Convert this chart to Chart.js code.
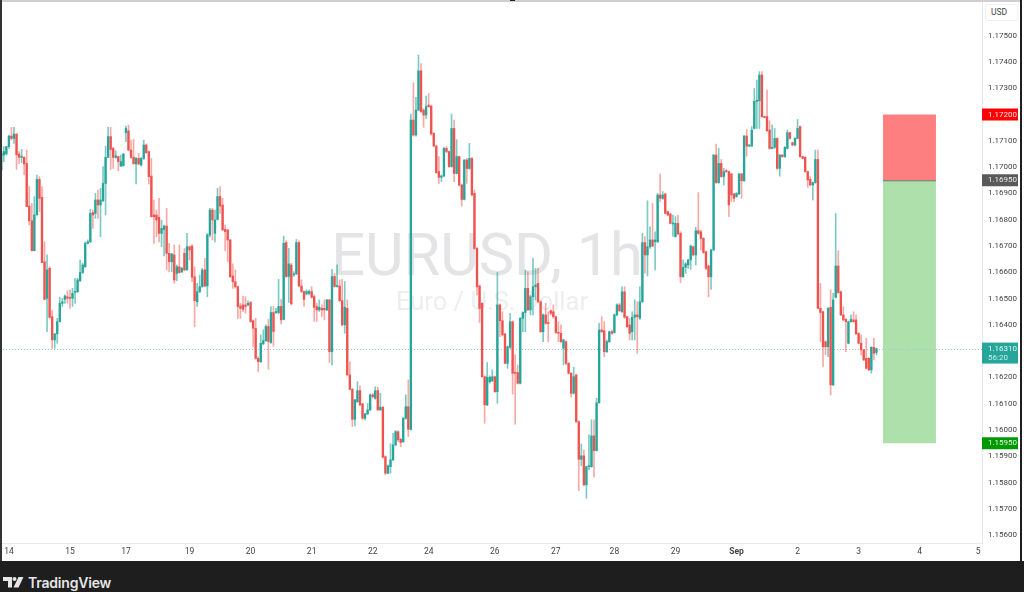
<!DOCTYPE html>
<html>
<head>
<meta charset="utf-8">
<title>EURUSD, 1h</title>
<script src="https://cdn.jsdelivr.net/npm/chart.js@4"></script>
<style>
    html, body { margin: 0; padding: 0; background: #fff; overflow: hidden; }
    #page { position: relative; width: 1024px; height: 592px; overflow: hidden; background: #fff; }
    #myChart { position: absolute; left: 0; top: 0; }
    #topLine { position: absolute; left: 0; top: 0; width: 1020px; height: 2px; background: #cfcfcf; }
    #topMark { position: absolute; left: 510px; top: 0; width: 5px; height: 1px; background: #222; }
    #leftLine { position: absolute; left: 0; top: 0; width: 2px; height: 561px; background: #333; }
    #rightLine { position: absolute; left: 1020px; top: 0; width: 2px; height: 561px; background: #1e1e1e; }
    #footer { position: absolute; left: 0; top: 561px; width: 1024px; height: 31px; background: #1e1e1e; }
    #footer svg { position: absolute; left: 3px; top: 16px; }
    #brand { position: absolute; left: 28px; top: 13px; color: #e6e6e6; font: 600 14px Inter, sans-serif; letter-spacing: -0.2px; }
    #usd { position: absolute; left: 985px; top: 4px; width: 33px; height: 17px; box-sizing: border-box; border: 1px solid #f0f0f0; border-radius: 2px; color: #444; font: 8.5px Roboto, sans-serif; line-height: 15px; padding-left: 5px; background: #fff; }
</style>
</head>
<body>
<div id="page">
    <canvas id="myChart" width="1020" height="561"></canvas>
    <div id="topLine"></div>
    <div id="topMark"></div>
    <div id="leftLine"></div>
    <div id="rightLine"></div>
    <div id="usd">USD</div>
    <div id="footer">
        <svg width="21" height="11" viewBox="0 0 21 11" fill="#e6e6e6">
            <path d="M0 0h9v10.5H5V4H0z"/>
            <circle cx="11.5" cy="2" r="2"/>
            <path d="M15.5 0H20.5L15.5 10.5H10.5z"/>
        </svg>
        <div id="brand">TradingView</div>
    </div>
</div>
<script>
// Velas de 1h
const opens = [
1.16989,1.17046,1.17050,1.17078,1.17118,1.17109,1.17126,1.17050,1.17037,1.17037,
1.17014,1.16852,1.16796,1.16682,1.16818,1.16953,1.16885,1.16640,1.16501,1.16615,
1.16431,1.16343,1.16366,1.16412,1.16482,1.16497,1.16507,1.16505,1.16501,1.16524,
1.16526,1.16568,1.16599,1.16621,1.16710,1.16716,1.16827,1.16824,1.16875,1.16856,
1.16872,1.16938,1.17037,1.17116,1.17071,1.17037,1.17040,1.17004,1.17005,1.17131,
1.17138,1.17065,1.17037,1.17012,1.17033,1.17008,1.17033,1.17084,1.17059,1.16966,
1.16818,1.16818,1.16809,1.16748,1.16763,1.16776,1.16672,1.16640,1.16666,1.16596,
1.16621,1.16602,1.16672,1.16609,1.16697,1.16700,1.16583,1.16488,1.16526,1.16545,
1.16609,1.16548,1.16742,1.16837,1.16748,1.16801,1.16888,1.16856,1.16763,1.16761,
1.16723,1.16586,1.16564,1.16545,1.16472,1.16476,1.16476,1.16476,1.16485,1.16416,
1.16387,1.16273,1.16260,1.16328,1.16340,1.16394,1.16333,1.16447,1.16447,1.16447,
1.16470,1.16421,1.16713,1.16584,1.16628,1.16590,1.16594,1.16713,1.16548,1.16527,
1.16518,1.16520,1.16527,1.16508,1.16470,1.16457,1.16463,1.16463,1.16457,1.16495,
1.16298,1.16584,1.16546,1.16548,1.16492,1.16400,1.16463,1.16210,1.16155,1.16041,
1.16108,1.16150,1.16100,1.16045,1.16062,1.16077,1.16134,1.16121,1.16150,1.16077,
1.16087,1.15899,1.15836,1.15861,1.15887,1.15944,1.15994,1.15965,1.15956,1.16045,
1.16089,1.16003,1.17179,1.17122,1.17217,1.17366,1.17217,1.17198,1.17236,1.17232,
1.17128,1.17080,1.16983,1.16961,1.16966,1.17071,1.17059,1.17002,1.17147,1.16976,
1.17040,1.16932,1.16877,1.17027,1.16995,1.17033,1.16900,1.16691,1.16548,1.16482,
1.16203,1.16096,1.16184,1.16188,1.16203,1.16146,1.16476,1.16416,1.16366,1.16254,
1.16315,1.16412,1.16219,1.16219,1.16178,1.16425,1.16447,1.16539,1.16457,1.16507,
1.16545,1.16558,1.16488,1.16374,1.16438,1.16406,1.16454,1.16450,1.16431,1.16371,
1.16368,1.16311,1.16336,1.16254,1.16216,1.16140,1.16210,1.16032,1.15889,1.15902,
1.15792,1.15861,1.15861,1.15978,1.15922,1.16104,1.16381,1.16378,1.16298,1.16336,
1.16374,1.16371,1.16438,1.16476,1.16450,1.16526,1.16431,1.16400,1.16374,1.16429,
1.16438,1.16425,1.16488,1.16713,1.16666,1.16697,1.16723,1.16716,1.16716,1.16894,
1.16881,1.16898,1.16831,1.16822,1.16784,1.16736,1.16786,1.16748,1.16583,1.16619,
1.16628,1.16647,1.16697,1.16666,1.16758,1.16754,1.16729,1.16678,1.16624,1.16583,
1.16685,1.17046,1.16941,1.17014,1.16964,1.16986,1.16983,1.16974,1.16898,1.16888,
1.16898,1.16974,1.16948,1.17118,1.17080,1.17080,1.17147,1.17250,1.17252,1.17350,
1.17192,1.17192,1.17141,1.17071,1.17075,1.17109,1.16995,1.17046,1.17040,1.17071,
1.17131,1.17093,1.17084,1.17109,1.17154,1.17040,1.17037,1.16983,1.16953,1.16932,
1.16941,1.17029,1.16463,1.16450,1.16336,1.16317,1.16467,1.16172,1.16505,1.16624,
1.16526,1.16438,1.16421,1.16330,1.16412,1.16419,1.16419,1.16368,1.16330,1.16305,
1.16273,1.16273,1.16229,1.16315,1.16295];
const closes = [
1.17052,1.17059,1.17078,1.17118,1.17109,1.17126,1.17046,1.17037,1.17040,1.17012,
1.16850,1.16796,1.16682,1.16818,1.16953,1.16881,1.16637,1.16497,1.16609,1.16429,
1.16343,1.16366,1.16412,1.16482,1.16488,1.16510,1.16501,1.16501,1.16520,1.16526,
1.16571,1.16599,1.16628,1.16710,1.16716,1.16824,1.16818,1.16875,1.16856,1.16875,
1.16938,1.17037,1.17116,1.17067,1.17037,1.17043,1.17021,1.17021,1.17050,1.17147,
1.17065,1.17037,1.17012,1.17033,1.17012,1.17033,1.17084,1.17055,1.16964,1.16811,
1.16811,1.16799,1.16748,1.16767,1.16776,1.16672,1.16640,1.16670,1.16571,1.16621,
1.16599,1.16615,1.16609,1.16697,1.16685,1.16581,1.16492,1.16526,1.16545,1.16609,
1.16548,1.16742,1.16837,1.16799,1.16799,1.16888,1.16852,1.16761,1.16755,1.16723,
1.16583,1.16564,1.16545,1.16470,1.16463,1.16459,1.16470,1.16482,1.16413,1.16387,
1.16273,1.16260,1.16330,1.16340,1.16394,1.16337,1.16447,1.16375,1.16451,1.16470,
1.16419,1.16710,1.16584,1.16632,1.16480,1.16594,1.16713,1.16548,1.16527,1.16497,
1.16527,1.16527,1.16505,1.16467,1.16457,1.16467,1.16457,1.16457,1.16495,1.16298,
1.16584,1.16546,1.16548,1.16492,1.16400,1.16467,1.16210,1.16155,1.16041,1.16115,
1.16150,1.16096,1.16045,1.16062,1.16077,1.16134,1.16127,1.16150,1.16077,1.16087,
1.15897,1.15836,1.15864,1.15887,1.15944,1.15994,1.15963,1.15953,1.16045,1.16089,
1.16003,1.17179,1.17122,1.17217,1.17366,1.17211,1.17198,1.17230,1.17230,1.17126,
1.17080,1.16979,1.16961,1.16966,1.17071,1.17059,1.17002,1.17147,1.16976,1.17040,
1.16932,1.16877,1.17027,1.16995,1.17033,1.16894,1.16691,1.16545,1.16463,1.16203,
1.16096,1.16201,1.16201,1.16203,1.16146,1.16476,1.16416,1.16362,1.16254,1.16317,
1.16412,1.16216,1.16216,1.16178,1.16425,1.16447,1.16539,1.16457,1.16507,1.16545,
1.16552,1.16488,1.16374,1.16438,1.16406,1.16405,1.16444,1.16431,1.16371,1.16368,
1.16336,1.16343,1.16254,1.16216,1.16140,1.16203,1.16032,1.15889,1.15902,1.15792,
1.15861,1.15864,1.15978,1.15922,1.16104,1.16381,1.16374,1.16298,1.16336,1.16374,
1.16368,1.16438,1.16476,1.16454,1.16526,1.16429,1.16393,1.16368,1.16429,1.16438,
1.16431,1.16488,1.16713,1.16666,1.16697,1.16723,1.16700,1.16723,1.16894,1.16881,
1.16894,1.16824,1.16818,1.16786,1.16786,1.16786,1.16746,1.16583,1.16619,1.16632,
1.16647,1.16700,1.16666,1.16758,1.16748,1.16729,1.16675,1.16615,1.16583,1.16685,
1.17046,1.16941,1.17014,1.16964,1.16983,1.16983,1.16856,1.16894,1.16881,1.16900,
1.16974,1.16948,1.17118,1.17080,1.17084,1.17141,1.17250,1.17252,1.17350,1.17192,
1.17189,1.17138,1.17071,1.17075,1.17109,1.16995,1.17046,1.17040,1.17075,1.17131,
1.17109,1.17084,1.17109,1.17147,1.17040,1.17033,1.16983,1.16951,1.16932,1.16941,
1.17029,1.16463,1.16447,1.16317,1.16317,1.16463,1.16172,1.16495,1.16624,1.16523,
1.16438,1.16419,1.16412,1.16412,1.16421,1.16412,1.16366,1.16330,1.16305,1.16267,
1.16235,1.16229,1.16315,1.16292,1.16310];
const highs = [
1.17078,1.17078,1.17080,1.17122,1.17151,1.17151,1.17126,1.17059,1.17067,1.17040,
1.17065,1.16926,1.16862,1.16888,1.16970,1.16964,1.16926,1.16716,1.16666,1.16621,
1.16454,1.16368,1.16425,1.16505,1.16501,1.16514,1.16530,1.16533,1.16539,1.16577,
1.16577,1.16647,1.16634,1.16716,1.16723,1.16839,1.16837,1.16900,1.16913,1.16919,
1.17002,1.17080,1.17151,1.17151,1.17075,1.17062,1.17042,1.17046,1.17052,1.17156,
1.17160,1.17103,1.17105,1.17037,1.17052,1.17037,1.17103,1.17088,1.17061,1.17033,
1.16875,1.16837,1.16881,1.16799,1.16780,1.16843,1.16710,1.16672,1.16704,1.16628,
1.16704,1.16619,1.16691,1.16748,1.16700,1.16704,1.16621,1.16558,1.16590,1.16615,
1.16653,1.16748,1.16843,1.16843,1.16837,1.16919,1.16926,1.16881,1.16780,1.16763,
1.16725,1.16632,1.16609,1.16548,1.16482,1.16510,1.16507,1.16492,1.16489,1.16419,
1.16425,1.16279,1.16362,1.16381,1.16400,1.16421,1.16470,1.16470,1.16463,1.16573,
1.16497,1.16738,1.16720,1.16691,1.16634,1.16603,1.16725,1.16720,1.16571,1.16530,
1.16533,1.16533,1.16546,1.16514,1.16482,1.16495,1.16476,1.16495,1.16497,1.16497,
1.16611,1.16596,1.16628,1.16571,1.16573,1.16565,1.16495,1.16260,1.16159,1.16117,
1.16184,1.16168,1.16102,1.16064,1.16102,1.16138,1.16140,1.16165,1.16163,1.16140,
1.16089,1.15902,1.15868,1.15948,1.15988,1.15998,1.15997,1.15969,1.16049,1.16134,
1.16191,1.17202,1.17321,1.17265,1.17426,1.17394,1.17223,1.17270,1.17280,1.17236,
1.17131,1.17084,1.17040,1.16970,1.17075,1.17078,1.17061,1.17202,1.17179,1.17105,
1.17042,1.16936,1.17029,1.17033,1.17090,1.17037,1.16913,1.16695,1.16552,1.16485,
1.16206,1.16257,1.16206,1.16229,1.16206,1.16599,1.16480,1.16450,1.16368,1.16320,
1.16444,1.16415,1.16286,1.16248,1.16429,1.16450,1.16609,1.16602,1.16514,1.16653,
1.16615,1.16615,1.16491,1.16442,1.16482,1.16450,1.16457,1.16476,1.16434,1.16412,
1.16400,1.16345,1.16339,1.16257,1.16219,1.16239,1.16212,1.16035,1.15947,1.15925,
1.15864,1.15982,1.16039,1.16039,1.16121,1.16406,1.16431,1.16412,1.16343,1.16377,
1.16381,1.16442,1.16480,1.16482,1.16545,1.16545,1.16434,1.16425,1.16450,1.16495,
1.16488,1.16545,1.16748,1.16736,1.16872,1.16773,1.16862,1.16754,1.16900,1.16974,
1.16907,1.16900,1.16833,1.16824,1.16818,1.16812,1.16818,1.16754,1.16647,1.16637,
1.16649,1.16704,1.16700,1.16771,1.16903,1.16761,1.16732,1.16681,1.16628,1.16687,
1.17048,1.17088,1.17071,1.17029,1.16995,1.16991,1.16985,1.16976,1.16900,1.16903,
1.16976,1.16976,1.17121,1.17143,1.17086,1.17154,1.17299,1.17331,1.17363,1.17363,
1.17194,1.17293,1.17176,1.17160,1.17147,1.17112,1.17048,1.17048,1.17078,1.17141,
1.17133,1.17095,1.17112,1.17181,1.17156,1.17042,1.17040,1.16985,1.16964,1.16943,
1.17065,1.17065,1.16558,1.16453,1.16339,1.16466,1.16533,1.16520,1.16824,1.16682,
1.16529,1.16469,1.16424,1.16415,1.16438,1.16450,1.16438,1.16371,1.16362,1.16307,
1.16349,1.16276,1.16317,1.16349,1.16312];
const lows = [
1.16989,1.17021,1.17046,1.17071,1.17103,1.17090,1.16991,1.17014,1.17017,1.16970,
1.16850,1.16780,1.16682,1.16682,1.16818,1.16831,1.16637,1.16495,1.16374,1.16425,
1.16311,1.16311,1.16330,1.16412,1.16470,1.16482,1.16482,1.16463,1.16470,1.16482,
1.16523,1.16564,1.16596,1.16619,1.16708,1.16713,1.16767,1.16805,1.16805,1.16735,
1.16869,1.16818,1.17037,1.16991,1.16995,1.17033,1.16986,1.17002,1.17004,1.17097,
1.17062,1.17033,1.17012,1.16936,1.17008,1.17004,1.17029,1.17052,1.16936,1.16811,
1.16710,1.16735,1.16716,1.16697,1.16662,1.16609,1.16602,1.16602,1.16558,1.16568,
1.16596,1.16599,1.16606,1.16609,1.16647,1.16564,1.16393,1.16470,1.16523,1.16543,
1.16545,1.16507,1.16735,1.16723,1.16716,1.16799,1.16824,1.16758,1.16682,1.16640,
1.16581,1.16539,1.16539,1.16425,1.16425,1.16450,1.16444,1.16472,1.16409,1.16318,
1.16269,1.16222,1.16257,1.16324,1.16337,1.16231,1.16330,1.16318,1.16444,1.16442,
1.16404,1.16419,1.16581,1.16485,1.16476,1.16584,1.16591,1.16546,1.16523,1.16470,
1.16514,1.16514,1.16501,1.16413,1.16413,1.16451,1.16432,1.16419,1.16454,1.16257,
1.16248,1.16543,1.16543,1.16489,1.16396,1.16368,1.16206,1.16153,1.16013,1.16016,
1.16105,1.16092,1.16041,1.16039,1.16058,1.16074,1.16121,1.16117,1.16074,1.16074,
1.15893,1.15830,1.15834,1.15836,1.15884,1.15940,1.15956,1.15937,1.15953,1.16041,
1.15975,1.16000,1.17118,1.17118,1.17214,1.17207,1.17151,1.17185,1.17227,1.17122,
1.17078,1.16976,1.16938,1.16945,1.16964,1.17055,1.16999,1.16999,1.16945,1.16974,
1.16928,1.16852,1.16875,1.16938,1.16991,1.16890,1.16687,1.16514,1.16409,1.16201,
1.16026,1.16093,1.16178,1.16184,1.16143,1.16102,1.16355,1.16358,1.16252,1.16235,
1.16311,1.16137,1.16023,1.16175,1.16175,1.16374,1.16374,1.16454,1.16438,1.16438,
1.16495,1.16485,1.16371,1.16336,1.16402,1.16336,1.16438,1.16425,1.16368,1.16336,
1.16333,1.16248,1.16248,1.16213,1.16125,1.16137,1.16028,1.15770,1.15864,1.15788,
1.15741,1.15849,1.15859,1.15821,1.15920,1.16102,1.16371,1.16279,1.16295,1.16333,
1.16364,1.16368,1.16434,1.16450,1.16447,1.16425,1.16390,1.16343,1.16343,1.16343,
1.16292,1.16421,1.16485,1.16596,1.16586,1.16691,1.16697,1.16609,1.16713,1.16869,
1.16877,1.16822,1.16814,1.16784,1.16736,1.16733,1.16742,1.16561,1.16581,1.16596,
1.16615,1.16611,1.16662,1.16628,1.16744,1.16685,1.16672,1.16609,1.16507,1.16535,
1.16682,1.16938,1.16938,1.16961,1.16932,1.16979,1.16812,1.16869,1.16869,1.16885,
1.16895,1.16881,1.16946,1.17042,1.17078,1.17078,1.17145,1.17147,1.17147,1.17189,
1.17187,1.17136,1.17067,1.17069,1.17071,1.16991,1.16966,1.17037,1.17037,1.17069,
1.17107,1.17081,1.17081,1.17107,1.17037,1.17031,1.16980,1.16923,1.16929,1.16875,
1.16938,1.16461,1.16336,1.16241,1.16286,1.16279,1.16134,1.16169,1.16502,1.16520,
1.16435,1.16416,1.16298,1.16328,1.16410,1.16410,1.16363,1.16328,1.16286,1.16264,
1.16232,1.16226,1.16216,1.16267,1.16286];

const totalBars = 386;              // la escala sigue despues de la ultima vela
const dayLabels = ['14', '15', '17', '19', '20', '21', '22', '24', '26', '27', '28', '29', 'Sep', '2', '3', '4', '5'];
const dayBars = [3, 27, 49, 74, 98, 122, 146, 168, 194, 218, 241, 265, 289, 313, 337, 361, 384];
const priceTicks = [1.156, 1.157, 1.158, 1.159, 1.16, 1.161, 1.162, 1.163, 1.164, 1.165, 1.166, 1.167, 1.168, 1.169, 1.17, 1.171, 1.172, 1.173, 1.174, 1.175];

const stopPrice = 1.172;
const entryPrice = 1.1695;
const targetPrice = 1.1595;
const lastPrice = 1.1631;
const countdown = '56:20';
const positionBars = [346.6, 367.4];

const upColor = '#26a69a';
const downColor = '#ef5350';

function isUp(i) {
    return closes[i] >= opens[i];
}

const labels = [];
for (let i = 0; i < totalBars; i++) {
    const d = dayBars.indexOf(i);
    labels.push(d >= 0 ? dayLabels[d] : '');
}

function tag(ctx, y, h, bg, color, text, sub) {
    ctx.fillStyle = bg;
    ctx.fillRect(982, y, 36, h);
    ctx.fillStyle = color;
    ctx.font = '8px Roboto, sans-serif';
    ctx.textAlign = 'left';
    ctx.textBaseline = 'middle';
    ctx.fillText(text, 988, y + (sub ? 6 : h / 2));
    if (sub) {
        ctx.fillStyle = '#c9ece8';
        ctx.fillText(sub, 988, y + 15);
    }
}

// Marca de agua, caja de la posicion y linea del ultimo precio
const backPlugin = {
    id: 'backPlugin',
    beforeDatasetsDraw(chart) {
        const { ctx, chartArea, scales } = chart;
        const y = scales.y;
        const x = scales.x;
        ctx.save();
        ctx.textAlign = 'center';
        ctx.textBaseline = 'alphabetic';
        ctx.fillStyle = '#e4e4e6';
        ctx.font = '59.5px Roboto, sans-serif';
        ctx.fillText('EURUSD, 1h', 487, 275);
        ctx.fillStyle = '#eeeeef';
        ctx.font = '25.5px Roboto, sans-serif';
        ctx.fillText('Euro / U.S. Dollar', 492, 310);

        const left = x.getPixelForValue(positionBars[0]);
        const right = x.getPixelForValue(positionBars[1]);
        const stopY = y.getPixelForValue(stopPrice);
        const entryY = y.getPixelForValue(entryPrice);
        const targetY = y.getPixelForValue(targetPrice);
        ctx.fillStyle = '#fe7f7f';
        ctx.fillRect(left, stopY, right - left, entryY - stopY);
        ctx.fillStyle = '#aee0ab';
        ctx.fillRect(left, entryY, right - left, targetY - entryY);
        ctx.fillStyle = '#6e6e6e';
        ctx.fillRect(left, entryY, right - left, 1);

        const lastY = Math.round(y.getPixelForValue(lastPrice)) + 0.5;
        ctx.strokeStyle = '#8fd0ca';
        ctx.lineWidth = 1;
        ctx.setLineDash([1, 2]);
        ctx.beginPath();
        ctx.moveTo(chartArea.left, lastY);
        ctx.lineTo(chartArea.right, lastY);
        ctx.stroke();
        ctx.restore();
    },
    afterDraw(chart) {
        const { ctx, scales } = chart;
        const y = scales.y;
        ctx.save();
        tag(ctx, y.getPixelForValue(stopPrice) - 6, 12, '#ff0000', '#ffe6e6', stopPrice.toFixed(5));
        tag(ctx, y.getPixelForValue(entryPrice) - 6, 12, '#5a5a5a', '#ececec', entryPrice.toFixed(5));
        tag(ctx, y.getPixelForValue(lastPrice) - 6, 21, upColor, '#e2f5f3', lastPrice.toFixed(5), countdown);
        tag(ctx, y.getPixelForValue(targetPrice) - 6, 12, '#009900', '#e2f5e2', targetPrice.toFixed(5));
        ctx.restore();
    }
};

const ctx = document.getElementById('myChart').getContext('2d');
const myChart = new Chart(ctx, {
    type: 'bar',
    data: {
        labels: labels,
        datasets: [
            {
                label: 'Mechas',
                data: lows.map((low, i) => [low, highs[i]]),
                backgroundColor: (c) => isUp(c.dataIndex) ? 'rgba(38, 166, 154, 0.6)' : 'rgba(239, 83, 80, 0.5)',
                barThickness: 1,
                grouped: false,
                order: 2
            },
            {
                label: 'Cuerpos',
                data: opens.map((open, i) => [open, closes[i]]),
                backgroundColor: (c) => isUp(c.dataIndex) ? upColor : downColor,
                barThickness: 1.7,
                minBarLength: 1,
                grouped: false,
                order: 1
            }
        ]
    },
    options: {
        responsive: false,
        animation: false,
        events: [],
        layout: { padding: 0 },
        plugins: {
            legend: { display: false },
            tooltip: { enabled: false }
        },
        scales: {
            x: {
                type: 'category',
                grid: { display: false, drawTicks: false },
                border: { display: true, color: '#e8e8e8' },
                ticks: {
                    autoSkip: false,
                    maxRotation: 0,
                    minRotation: 0,
                    padding: 4,
                    color: '#444',
                    font: (c) => ({ family: 'Roboto, sans-serif', size: 8.5, weight: c.tick && c.tick.label === 'Sep' ? 'bold' : 'normal' })
                },
                afterBuildTicks: (axis) => {
                    axis.ticks = dayBars.map((b) => ({ value: b }));
                },
                afterFit: (axis) => {
                    axis.height = 18;
                    axis.paddingLeft = 0;
                    axis.paddingRight = 0;
                }
            },
            y: {
                position: 'right',
                min: 1.155707,
                max: 1.176354,
                grid: { display: false, drawTicks: false },
                border: { display: true, color: '#e8e8e8' },
                ticks: {
                    padding: 6,
                    color: '#444',
                    font: { family: 'Roboto, sans-serif', size: 8 },
                    callback: (v) => Number(v).toFixed(5)
                },
                afterBuildTicks: (axis) => {
                    axis.ticks = priceTicks.map((v) => ({ value: v }));
                },
                afterFit: (axis) => {
                    axis.width = 38;
                    axis.paddingTop = 0;
                    axis.paddingBottom = 0;
                }
            }
        }
    },
    plugins: [backPlugin]
});
</script>
</body>
</html>
